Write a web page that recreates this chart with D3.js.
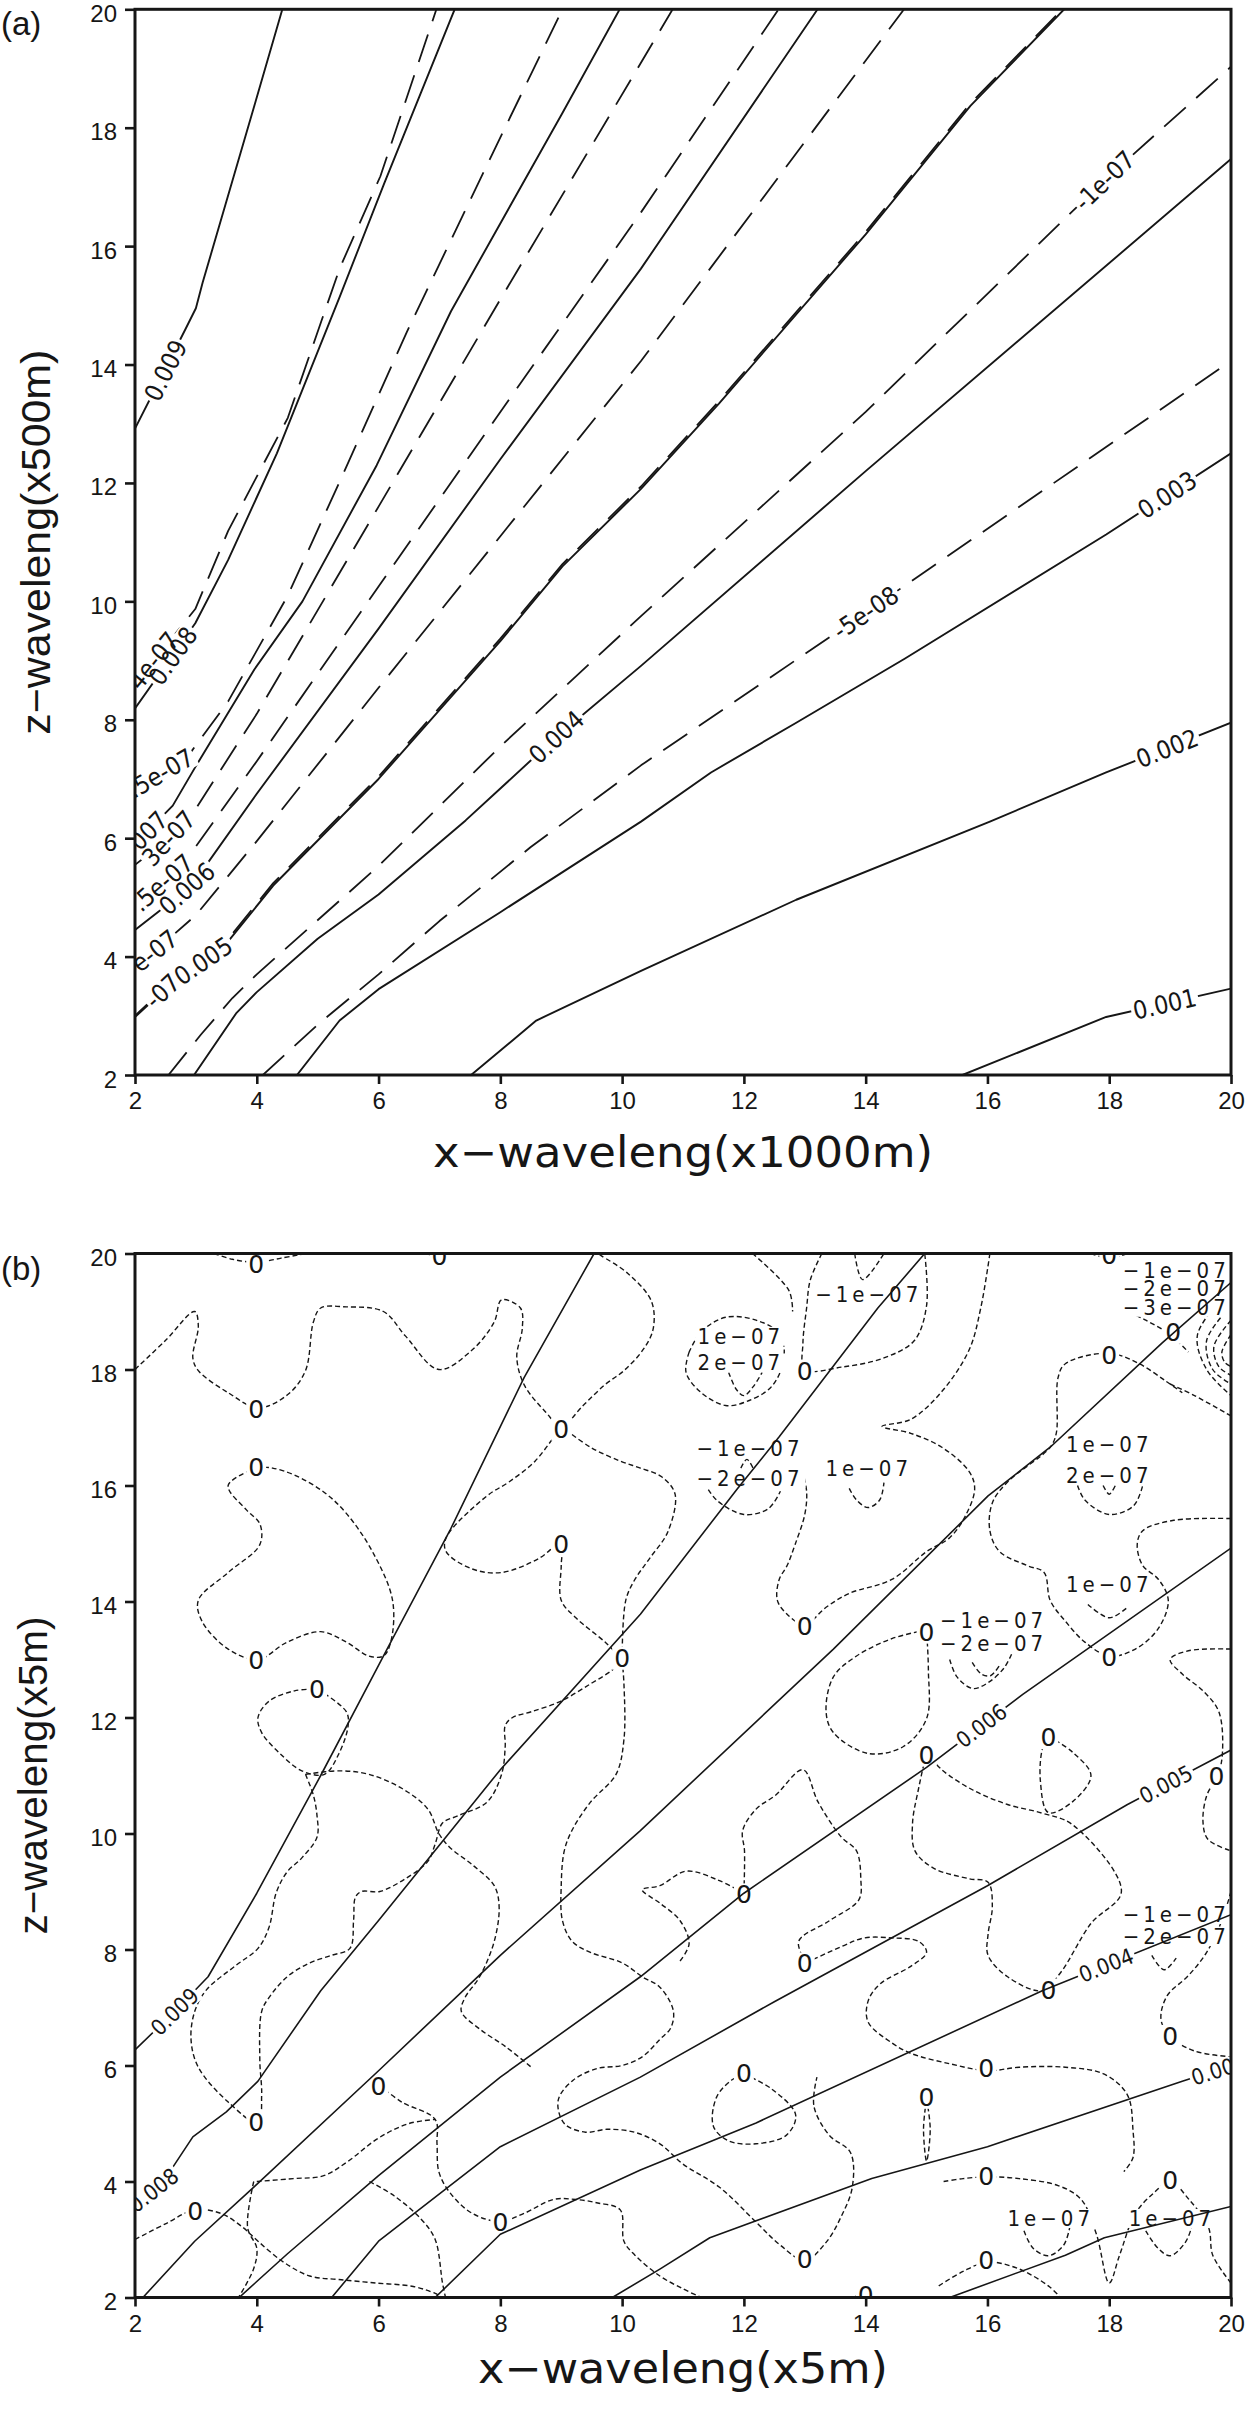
<!DOCTYPE html>
<html>
<head>
<meta charset="utf-8">
<script src="https://cdn.jsdelivr.net/npm/d3@7"></script>
<style>
  body { margin: 0; background: #fff; }
  svg { display: block; }
</style>
</head>
<body>
<svg id="fig" width="1247" height="2409"></svg>
<script>
// ---- axis ticks ----
const xTickValues = [2, 4, 6, 8, 10, 12, 14, 16, 18, 20];
const yTickValues = [2, 4, 6, 8, 10, 12, 14, 16, 18, 20];

// ---- panel (a): contour lines, [x, z] ----
const a009 = [[2,12.92],[2.83,14.6],[3.0,14.95],[3.11,15.38],[3.96,18.37],[4.42,20]];
const a008 = [[2,8.19],[2.99,9.63],[3.53,10.7],[4.33,12.5],[5.36,15.14],[6.09,17.05],[7.25,20]];
const a007 = [[2,5.9],[2.62,6.55],[2.99,7.2],[3.96,8.85],[4.75,10.0],[5.97,12.3],[7.19,14.9],[9.02,18.25],[9.96,20]];
const a006 = [[2,4.45],[2.5,4.85],[3,5.3],[4,6.75],[6,9.54],[8,12.4],[10.31,15.62],[13.21,20]];
const a005 = [[2,2.98],[2.5,3.45],[3.0,3.85],[3.47,4.18],[4.27,5.2],[6,7.0],[8,9.33],[9.02,10.59],[10.31,11.9],[11.59,13.34],[14.0,16.2],[15.72,18.37],[17.26,20]];
const a004 = [[2.97,2],[3.66,3.04],[4,3.4],[5,4.3],[6,5.05],[7.43,6.3],[8.92,7.71],[10.31,8.91],[14,12.2],[20,17.47]];
const a003 = [[4.66,2],[5.36,2.92],[6.0,3.45],[8.0,4.75],[10.31,6.28],[11.46,7.11],[12.86,7.95],[14.64,9.03],[17.95,11.13],[20,12.5]];
const a002 = [[7.52,2],[8.59,2.92],[10.31,3.76],[12.86,4.96],[16.04,6.28],[17.95,7.11],[20,7.95]];
const a001 = [[15.59,2],[17.95,2.98],[20,3.46]];

const aNeg40 = [[2,8.61],[2.99,9.87],[3.53,11.19],[4.51,13.1],[5.36,15.62],[6.03,17.18],[6.95,20]];
const aNeg35 = [[2,6.85],[2.5,7.15],[2.93,7.47],[3.53,8.31],[4.51,10.1],[5.36,12.02],[6.46,14.54],[7.8,17.41],[9.02,20]];
const aNeg30 = [[2,5.55],[2.5,5.95],[3,6.5],[4,8.1],[6,11.6],[8,15.1],[10.83,20]];
const aNeg25 = [[2,4.85],[2.5,5.3],[3,5.86],[4,7.3],[6,10.25],[8,13.2],[10.31,16.57],[12.57,20]];
const aNeg20 = [[2,3.85],[2.5,4.25],[3,4.7],[4,5.95],[6,8.54],[8,11.1],[10.31,14.06],[14.63,20]];
const aNeg15 = [[2,3.0],[2.5,3.48],[3.0,3.88],[3.47,4.22],[4.27,5.24],[6,7.04],[8,9.37],[9.02,10.63],[10.31,11.94],[11.59,13.38],[14.0,16.24],[15.72,18.41],[17.23,20]];
const aNeg10 = [[2.55,2],[3.08,2.68],[3.6,3.3],[4,3.7],[6,5.53],[8,7.55],[10.31,9.75],[14,13.2],[17.92,17.11],[20,19.03]];
const aNeg05 = [[4.1,2],[5,2.85],[6,3.7],[7,4.6],[8.5,5.85],[10.31,7.23],[14.0,9.81],[20,14.06]];

const aSolidLines = [a009, a008, a007, a006, a005, a004, a003, a002, a001];
const aDashedLines = [aNeg40, aNeg35, aNeg30, aNeg25, aNeg20, aNeg15, aNeg10, aNeg05];

// [line, text, x, z]  (text as it shows, clipped by the frame)
const aLabels = [
  [a009, '0.009', 2.5, 13.9],
  [aNeg40, '4e-07', 2.3, 9.0],
  [a008, '0.008', 2.62, 9.08],
  [aNeg35, '.5e-07', 2.42, 7.1],
  [a007, '007', 2.22, 6.13],
  [aNeg30, '3e-07', 2.55, 6.0],
  [aNeg25, '.5e-07', 2.45, 5.25],
  [a006, '0.006', 2.85, 5.15],
  [aNeg20, 'e-07', 2.32, 4.1],
  [aNeg15, '-07', 2.45, 3.42],
  [a005, '0.005', 3.12, 3.93],
  [aNeg10, '-1e-07', 17.92, 17.11],
  [a004, '0.004', 8.92, 7.71],
  [aNeg05, '-5e-08', 14.0, 9.81],
  [a003, '0.003', 18.95, 11.8],
  [a002, '0.002', 18.95, 7.52],
  [a001, '0.001', 18.91, 3.2]
];

// ---- panel (b): solid contours ----
const b009 = [[2,6.27],[2.65,6.93],[3.2,7.53],[4,8.97],[5.05,11.0],[6.14,13.18],[7.17,15.22],[8.39,17.86],[9.54,20]];
const b008 = [[2,3.6],[2.44,3.96],[2.95,4.77],[3.5,5.2],[4.02,5.73],[5.05,7.29],[6,8.5],[8,11.1],[10.3,13.78],[11.89,15.94],[12.58,16.84],[14.2,19.06],[14.97,20]];
const b007 = [[2.13,2],[2.98,2.97],[4,3.95],[6,5.91],[8,7.9],[10.3,10.05],[13.47,13.18],[16.01,15.82],[17.03,16.66],[18.87,18.46],[20,19.5]];
const b006 = [[3.71,2],[4.5,2.75],[6,4.1],[8,5.8],[10.3,7.53],[12.0,8.97],[15.0,11.14],[16.58,12.4],[20,14.92]];
const b005 = [[5.23,2],[6,2.97],[8,4.6],[10.3,5.8],[12.5,7.1],[16,9.1],[18.3,10.5],[20,11.44]];
const b004 = [[6.93,2],[8,3.09],[10.3,4.2],[12.2,5.01],[16.9,7.29],[20,8.6]];
const b003 = [[9.84,2],[10.62,2.49],[11.44,3.03],[14.1,4.05],[16,4.6],[19.2,5.73],[20,6.0]];
const b002 = [[15.38,2],[17.28,2.73],[17.92,3.03],[20,3.57]];
const bSolidLines = [b009, b008, b007, b006, b005, b004, b003, b002];

const bSolidLabels = [
  [b009, '0.009', 2.65, 6.93],
  [b008, '0.008', 2.3, 3.85],
  [b006, '0.006', 15.9, 11.86],
  [b005, '0.005', 18.93, 10.85],
  [b004, '0.004', 17.95, 7.73],
  [b003, '0.003', 19.8, 5.93]
];

// ---- panel (b): dashed contours (zero line and small +/- cells) ----
const bDashedLines = [
  [[3.3,20],[3.6,19.9],[4.0,19.85],[4.4,19.92],[4.8,20]],
  [[6.8,20],[7.0,19.93],[7.2,20]],
  [[17.7,20],[18.0,19.92],[18.3,20]],
  [[2,18],[2.5,18.5],[2.98,19.0],[3.04,18.75],[2.95,18.2],[3.04,17.98],[3.53,17.6],[4.02,17.34],[4.5,17.56],[4.8,17.98],[4.93,18.82],[5.05,19.06],[5.47,19.08],[6.08,19.0],[6.44,18.58],[6.99,18.0],[7.54,18.34],[7.9,18.82],[8.02,19.2],[8.33,19.06],[8.36,18.7],[8.27,18.22],[8.39,17.74],[8.75,17.26],[9.0,17.02],[9.36,17.38],[9.72,17.74],[10.03,17.98],[10.35,18.35],[10.51,18.7],[10.48,19.18],[10.09,19.66],[9.66,19.96],[9.6,20]],
  [[4.02,16.32],[3.53,16.0],[3.83,15.58],[4.05,15.34],[4.05,14.98],[3.53,14.5],[3.04,14.02],[3.1,13.66],[3.53,13.18],[4.02,13.0],[4.5,13.3],[5.05,13.48],[5.47,13.3],[5.84,13.06],[6.08,13.06],[6.2,13.3],[6.23,14.02],[5.9,14.86],[5.47,15.52],[5.11,15.88],[4.62,16.18],[4.26,16.3],[4.02,16.32]],
  [[5.0,12.49],[5.47,12.1],[5.5,11.86],[5.35,11.38],[5.11,11.02],[4.74,11.08],[4.38,11.38],[4.08,11.74],[4.02,12.0],[4.2,12.28],[4.62,12.46],[5.0,12.49]],
  [[4.8,11.02],[5.35,11.08],[5.84,11.02],[6.38,10.78],[6.81,10.42],[6.99,10.0],[7.17,9.76],[7.54,9.46],[7.9,9.1],[7.98,8.74],[7.9,8.14],[7.66,7.53],[7.42,7.17],[7.36,6.93],[7.66,6.63],[8.08,6.33],[8.51,5.97]],
  [[4.8,11.02],[4.93,10.66],[4.99,10.3],[4.99,9.94],[4.74,9.58],[4.5,9.34],[4.32,8.98],[4.2,8.38],[4.02,8.02],[3.65,7.72],[3.17,7.3],[2.98,6.93],[2.92,6.45],[3.04,5.97],[3.53,5.37],[4.02,5.01],[4.08,5.49],[4.05,6.09],[4.08,6.93],[4.2,7.17],[4.5,7.53],[4.87,7.77],[5.23,7.9],[5.53,8.02],[5.59,8.5],[5.62,8.9],[5.72,9.0],[6.02,9.0],[6.44,9.22],[6.81,9.52],[6.93,9.82],[7.05,10.18],[7.29,10.3],[7.78,10.54],[8.02,11.02],[8.08,11.5],[8.08,11.86],[8.2,12.0],[8.51,12.1],[8.99,12.28],[9.48,12.58],[9.84,12.82],[10.0,13.0]],
  [[10.0,13.0],[10.06,14.02],[10.21,14.38],[10.45,14.74],[10.75,15.2],[10.87,15.85],[10.65,16.15],[10.3,16.3],[9.97,16.42],[9.48,16.66],[9.0,17.02]],
  [[10.0,13.0],[10.03,12.58],[10.03,11.62],[9.9,11.02],[9.48,10.54],[9.18,10.06],[9.05,9.7],[9.0,9.1],[9.02,8.5],[9.18,8.14],[9.48,7.95],[10.0,7.77],[10.33,7.53],[10.62,7.35],[10.84,6.95],[10.8,6.65],[10.62,6.45],[10.33,6.15],[10.0,6.0],[9.6,5.95],[9.2,5.75],[8.95,5.4],[9.05,5.0],[9.4,4.85],[9.75,4.9],[10.2,4.85],[10.62,4.65],[11.0,4.3],[11.6,3.9],[12.2,3.3],[12.6,2.9],[13.0,2.64],[13.35,2.95],[13.6,3.4],[13.78,3.9],[13.75,4.5],[13.4,4.8],[13.15,5.3],[13.2,5.8]],
  [[9.0,17.02],[8.57,16.42],[8.14,16.06],[7.78,15.82],[7.11,15.1],[7.11,14.86],[7.54,14.56],[8.02,14.5],[8.63,14.74],[9.0,15.01],[9.0,14.62],[9.0,14.02],[9.24,13.72],[9.72,13.3],[10.0,13.0]],
  [[2,3.0],[2.5,3.27],[2.98,3.51],[3.41,3.45],[3.77,3.21],[4.02,2.97],[4.44,2.61],[4.87,2.37],[5.35,2.31],[5.96,2.25],[6.57,2.19],[6.93,2.07],[7.05,2]],
  [[6.0,5.67],[6.38,5.37],[6.93,5.07],[6.96,4.65],[6.99,4.17],[7.17,3.81],[7.54,3.45],[8.0,3.31],[8.39,3.45],[8.87,3.69],[9.24,3.69],[9.6,3.63],[9.97,3.51],[10.03,2.97],[10.21,2.73],[10.62,2.37],[11.0,2.15],[11.3,2]],
  [[4.0,4.0],[4.6,4.05],[5.1,4.1],[5.5,4.35],[6.0,4.75],[6.5,5.0],[6.93,5.07]],
  [[3.95,4.0],[3.85,3.2],[4.0,2.85],[3.95,2.5],[3.7,2.0]],
  [[5.85,4.0],[6.26,3.75],[6.7,3.35],[6.93,3.0],[7.05,2.25],[7.1,2.0]],
  [[12.0,8.97],[11.57,9.2],[11.05,9.35],[10.62,9.1],[10.33,9.03],[10.62,8.8],[10.95,8.5],[11.1,8.1],[10.95,7.8]],
  [[12.0,8.97],[12.01,9.7],[11.98,10.05],[12.2,10.42],[12.52,10.66],[12.97,11.1],[13.22,10.54],[13.6,9.94],[13.85,9.7],[13.92,9.22],[13.89,8.86],[13.41,8.5],[12.9,8.14],[13.02,7.77]],
  [[13.02,7.77],[13.6,8.05],[13.98,8.2],[14.43,8.2],[14.87,8.14],[15.0,7.95],[14.74,7.71],[14.24,7.41],[14.04,7.11],[14.04,6.75],[14.43,6.39],[14.74,6.21],[15.38,6.03],[16.0,5.91],[16.52,5.97],[17.28,5.97],[17.92,5.85],[18.3,5.49],[18.39,4.89],[18.39,4.41],[18.24,4.17]],
  [[12.0,5.85],[12.45,5.6],[12.85,5.15],[12.7,4.8],[12.2,4.65],[11.75,4.7],[11.5,4.95],[11.55,5.45],[11.8,5.75],[12.0,5.85]],
  [[15.0,5.43],[15.06,4.9],[15.0,4.35],[14.95,4.9],[15.0,5.43]],
  [[15.28,4.0],[15.6,4.05],[16.0,4.08],[16.52,4.05],[17.16,3.93],[17.54,3.69],[17.79,3.09],[18.0,2.25],[18.17,2.73],[18.43,3.45],[18.74,3.81],[19.0,4.0],[19.31,3.69],[19.63,3.21],[19.7,2.73],[20,2.25]],
  [[15.2,2.2],[15.6,2.45],[16.0,2.61],[16.5,2.5],[17.0,2.2],[17.2,2.0]],
  [[13.8,2],[14.0,2.08],[14.2,2]],
  [[16.6,3.15],[16.75,2.85],[17.0,2.72],[17.25,2.9],[17.35,3.2]],
  [[18.6,3.15],[18.8,2.85],[19.0,2.72],[19.25,2.95],[19.35,3.2]],
  [[13.28,20],[13.09,19.54],[13.03,19.06],[12.97,18.46],[13.0,18.0],[13.6,18.04],[14.3,18.2],[14.8,18.5],[15.0,19.1],[14.97,20]],
  [[13.82,20],[13.95,19.55],[14.3,20]],
  [[12.14,20],[12.74,19.36],[12.8,19.0]],
  [[11.1,18.3],[11.05,17.95],[11.3,17.6],[11.7,17.38],[12.05,17.45],[12.45,17.7],[12.65,18.15],[12.6,18.6],[12.2,18.85],[11.7,18.9],[11.3,18.65],[11.1,18.3]],
  [[11.75,17.95],[11.88,17.65],[12.0,17.55],[12.15,17.7],[12.3,17.95]],
  [[11.35,16.05],[11.55,15.75],[12.0,15.5],[12.4,15.6],[12.6,15.9]],
  [[11.95,16.3],[12.05,16.45],[12.15,16.3]],
  [[13.73,15.95],[13.85,15.75],[14.04,15.62],[14.23,15.75],[14.3,16.05]],
  [[16.04,20],[15.89,19.06],[15.7,18.34],[15.25,17.62],[14.74,17.14],[14.27,17.02],[14.74,16.9],[15.25,16.66],[15.7,16.24],[15.79,15.94],[15.63,15.46],[15.38,15.1],[15.0,14.86],[14.43,14.38],[13.73,14.14],[13.35,13.9],[13.0,13.6],[12.71,13.78],[12.55,14.02],[12.58,14.38],[12.71,14.62],[12.84,14.98],[13.0,15.5],[13.03,15.9],[12.95,16.3]],
  [[15.0,13.51],[14.43,13.36],[13.85,13.06],[13.47,12.7],[13.35,12.1],[13.47,11.74],[14.04,11.38],[14.62,11.5],[15.0,11.98],[15.03,12.82],[15.0,13.51]],
  [[15.38,13.0],[15.5,12.7],[15.76,12.5],[16.01,12.6],[16.27,12.85],[16.4,13.1]],
  [[15.75,12.95],[15.9,12.75],[16.05,12.72],[16.2,12.9]],
  [[15.0,11.4],[15.25,11.1],[15.76,10.75],[16.33,10.5],[16.9,10.35],[17.4,10.15],[18.2,9.0],[17.7,8.45],[17.2,7.6],[16.9,7.29],[16.33,7.53],[16.01,7.9],[16.01,8.26],[16.08,8.74],[16.01,9.16],[15.7,9.22],[15.12,9.4],[14.81,9.7],[14.77,10.18],[14.87,10.78],[15.0,11.4]],
  [[17.0,11.68],[17.4,11.4],[17.7,11.0],[17.4,10.55],[17.0,10.36],[16.87,10.9],[16.9,11.45],[17.0,11.68]],
  [[20,15.43],[19.06,15.4],[18.55,15.22],[18.46,14.98],[18.55,14.62],[18.81,14.38],[18.97,14.02],[18.81,13.54],[18.43,13.18],[18.0,13.06],[17.6,13.3],[17.28,13.66],[17.03,14.02],[16.93,14.5],[16.65,14.62],[16.2,14.86],[16.04,15.22],[16.08,15.7],[16.33,16.06],[17.03,16.66],[17.13,16.9],[17.16,17.86],[17.28,18.1],[18.0,18.28],[18.49,18.1],[18.93,17.8],[19.2,17.6]],
  [[17.48,16.0],[17.6,15.75],[18.0,15.5],[18.4,15.65],[18.55,16.0]],
  [[17.9,16.0],[18.0,15.85],[18.1,16.0]],
  [[17.65,13.95],[18.0,13.72],[18.3,13.9]],
  [[18.2,19.05],[18.6,18.85],[19.0,18.6],[19.3,18.3]],
  [[20,19.4],[19.45,18.6],[19.6,18.0],[20,17.55]],
  [[20,19.1],[19.6,18.5],[19.7,18.0],[20,17.75]],
  [[20,18.85],[19.72,18.4],[19.8,18.05],[20,17.9]],
  [[20,18.6],[19.85,18.3],[19.9,18.12],[20,18.05]],
  [[19.0,17.75],[19.4,17.55],[20,17.2]],
  [[20,13.18],[19.3,13.15],[19.0,13.0],[19.2,12.75],[19.55,12.45],[19.8,12.1],[19.86,11.4],[19.79,11.02],[19.6,10.65],[19.54,10.2],[19.62,9.9],[20,9.7]],
  [[20,9.0],[19.85,8.5],[19.6,7.95],[19.3,7.55],[18.95,7.2],[18.85,6.8],[18.99,6.51],[19.4,6.25],[20,6.15]],
  [[18.7,7.9],[18.9,7.65],[19.1,7.85]]
];

const bZeroLabels = [
  [3.99,19.82],[7.0,19.95],[18.0,19.97],[19.05,18.65],[3.99,17.32],[9.0,16.98],[3.99,16.32],[9.0,14.99],
  [3.99,13.0],[10.0,13.03],[4.99,12.49],[3.99,5.02],[6.0,5.64],[2.99,3.5],[8.0,3.3],[13.0,2.67],
  [14.0,2.05],[12.0,5.87],[15.0,5.46],[15.98,5.96],[15.98,4.1],[15.98,2.64],[13.0,7.76],[12.0,8.95],
  [15.0,11.36],[15.0,13.48],[13.0,13.58],[13.0,17.98],[17.0,11.66],[17.0,7.31],[19.76,11.0],[19.0,6.51],
  [19.0,4.02],[18.0,18.25],[18.0,13.04]
];

const bTextLabels = [
  ['\u22121e\u221207', 14.05, 19.3],
  ['1e\u221207', 11.95, 18.58], ['2e\u221207', 11.95, 18.12],
  ['\u22121e\u221207', 12.1, 16.64], ['\u22122e\u221207', 12.1, 16.13],
  ['1e\u221207', 14.05, 16.3],
  ['1e\u221207', 18.0, 16.72], ['2e\u221207', 18.0, 16.18],
  ['1e\u221207', 18.0, 14.3],
  ['\u22121e\u221207', 16.1, 13.68], ['\u22122e\u221207', 16.1, 13.28],
  ['\u22121e\u221207', 19.1, 19.72], ['\u22122e\u221207', 19.1, 19.4], ['\u22123e\u221207', 19.1, 19.08],
  ['\u22121e\u221207', 19.1, 8.61], ['\u22122e\u221207', 19.1, 8.23],
  ['1e\u221207', 17.04, 3.37], ['1e\u221207', 19.03, 3.37]
];

// ---- drawing ----
const svg = d3.select('#fig');
const ink = '#161616';
const labelFont = '"DejaVu Sans Condensed", "DejaVu Sans", "Liberation Sans", sans-serif';
const zeroFont = '"DejaVu Sans", "Liberation Sans", sans-serif';
const titleFont = '"DejaVu Sans", "Liberation Sans", sans-serif';
const tickFont = '"Liberation Sans", Arial, sans-serif';

function makePanel(top, bottom, id) {
  const x = d3.scaleLinear().domain([2, 20]).range([135, 1231]);
  const y = d3.scaleLinear().domain([2, 20]).range([bottom, top]);
  svg.append('clipPath').attr('id', id)
    .append('rect').attr('x', 135).attr('y', top).attr('width', 1096).attr('height', bottom - top);
  const g = svg.append('g').attr('clip-path', `url(#${id})`);
  return { x, y, g, top, bottom };
}

function lineAngle(p, pts, lx, ly) {
  const px = p.x(lx), py = p.y(ly);
  let best = 0, bd = Infinity;
  for (let i = 0; i < pts.length - 1; i++) {
    const ax = p.x(pts[i][0]), ay = p.y(pts[i][1]);
    const bx = p.x(pts[i + 1][0]), by = p.y(pts[i + 1][1]);
    const dx = bx - ax, dy = by - ay, L = dx * dx + dy * dy;
    let t = L ? ((px - ax) * dx + (py - ay) * dy) / L : 0;
    t = Math.max(0, Math.min(1, t));
    const qx = ax + t * dx - px, qy = ay + t * dy - py, d = qx * qx + qy * qy;
    if (d < bd) { bd = d; best = Math.atan2(dy, dx) * 180 / Math.PI; }
  }
  if (best > 90) best -= 180;
  if (best < -90) best += 180;
  return best;
}

function drawLines(p, lines, opts) {
  const gen = d3.line().x(d => p.x(d[0])).y(d => p.y(d[1])).curve(opts.curve || d3.curveLinear);
  p.g.append('g').selectAll('path').data(lines).enter().append('path')
    .attr('d', gen)
    .attr('fill', 'none')
    .attr('stroke', ink)
    .attr('stroke-width', opts.width)
    .attr('stroke-dasharray', opts.dash || null)
    .attr('stroke-linejoin', 'round');
}

function drawLabels(p, items, opts) {
  const rects = p.g.append('g');
  const texts = p.g.append('g');
  items.forEach(([line, txt, lx, ly]) => {
    const ang = line ? lineAngle(p, line, lx, ly) : 0;
    const tf = `translate(${p.x(lx)},${p.y(ly)}) rotate(${ang})`;
    const t = texts.append('text')
      .attr('transform', tf)
      .attr('text-anchor', 'middle')
      .attr('dy', '0.36em')
      .attr('font-family', opts.family || labelFont)
      .attr('font-size', opts.size)
      .attr('letter-spacing', opts.spacing || 0)
      .attr('fill', ink)
      .text(txt);
    const b = t.node().getBBox();
    rects.append('rect')
      .attr('transform', tf)
      .attr('x', b.x - 2).attr('y', b.y + 3)
      .attr('width', b.width + 4).attr('height', Math.max(0, b.height - 6))
      .attr('fill', '#fff');
  });
}

function drawAxes(p, xTitle, xTitleY, xTitleLen, yTitle, yTitleX, yTitleLen, tag, tagY) {
  const gx = svg.append('g').attr('transform', `translate(0,${p.bottom})`)
    .call(d3.axisBottom(p.x).tickValues(xTickValues).tickSize(9).tickPadding(8));
  const gy = svg.append('g').attr('transform', 'translate(135,0)')
    .call(d3.axisLeft(p.y).tickValues(yTickValues).tickSize(10).tickPadding(8));
  [gx, gy].forEach(g => {
    g.select('.domain').remove();
    g.selectAll('line').attr('stroke', ink).attr('stroke-width', 2.6);
    g.selectAll('text').attr('font-family', tickFont).attr('font-size', 24).attr('fill', ink);
  });
  gy.selectAll('text').attr('dy', '0.5em');
  svg.append('rect')
    .attr('x', 135).attr('y', p.top).attr('width', 1096).attr('height', p.bottom - p.top)
    .attr('fill', 'none').attr('stroke', ink).attr('stroke-width', 3);

  svg.append('text')
    .attr('x', 683).attr('y', xTitleY)
    .attr('text-anchor', 'middle')
    .attr('font-family', titleFont).attr('font-size', 42)
    .attr('textLength', xTitleLen).attr('lengthAdjust', 'spacingAndGlyphs')
    .attr('fill', ink)
    .text(xTitle);

  svg.append('text')
    .attr('transform', `translate(${yTitleX},${(p.top + p.bottom) / 2}) rotate(-90)`)
    .attr('text-anchor', 'middle')
    .attr('font-family', tickFont).attr('font-size', 40)
    .attr('textLength', yTitleLen).attr('lengthAdjust', 'spacingAndGlyphs')
    .attr('fill', ink)
    .text(yTitle);

  svg.append('text')
    .attr('x', 1).attr('y', tagY)
    .attr('font-family', tickFont).attr('font-size', 33)
    .attr('fill', ink)
    .text(tag);
}

// panel (a)
const pa = makePanel(9.3, 1075, 'clipA');
drawLines(pa, aSolidLines, { width: 1.9 });
drawLines(pa, aDashedLines, { width: 1.8, dash: '29,14' });
drawLabels(pa, aLabels, { size: 25 });
drawAxes(pa, 'x\u2212waveleng(x1000m)', 1167, 500, 'z\u2212waveleng(x500m)', 50, 385, '(a)', 35);

// panel (b)
const pb = makePanel(1253.5, 2297.5, 'clipB');
drawLines(pb, bDashedLines, { width: 1.4, dash: '5,3', curve: d3.curveCatmullRom.alpha(0.5) });
drawLabels(pb, bZeroLabels.map(d => [null, '0', d[0], d[1]]), { size: 25, family: zeroFont });
drawLabels(pb, bTextLabels.map(d => [null, d[0], d[1], d[2]]), { size: 22, spacing: 4 });
drawLines(pb, bSolidLines, { width: 1.6 });
drawLabels(pb, bSolidLabels, { size: 22 });
drawAxes(pb, 'x\u2212waveleng(x5m)', 2383, 410, 'z\u2212waveleng(x5m)', 47, 318, '(b)', 1280);
</script>
</body>
</html>
